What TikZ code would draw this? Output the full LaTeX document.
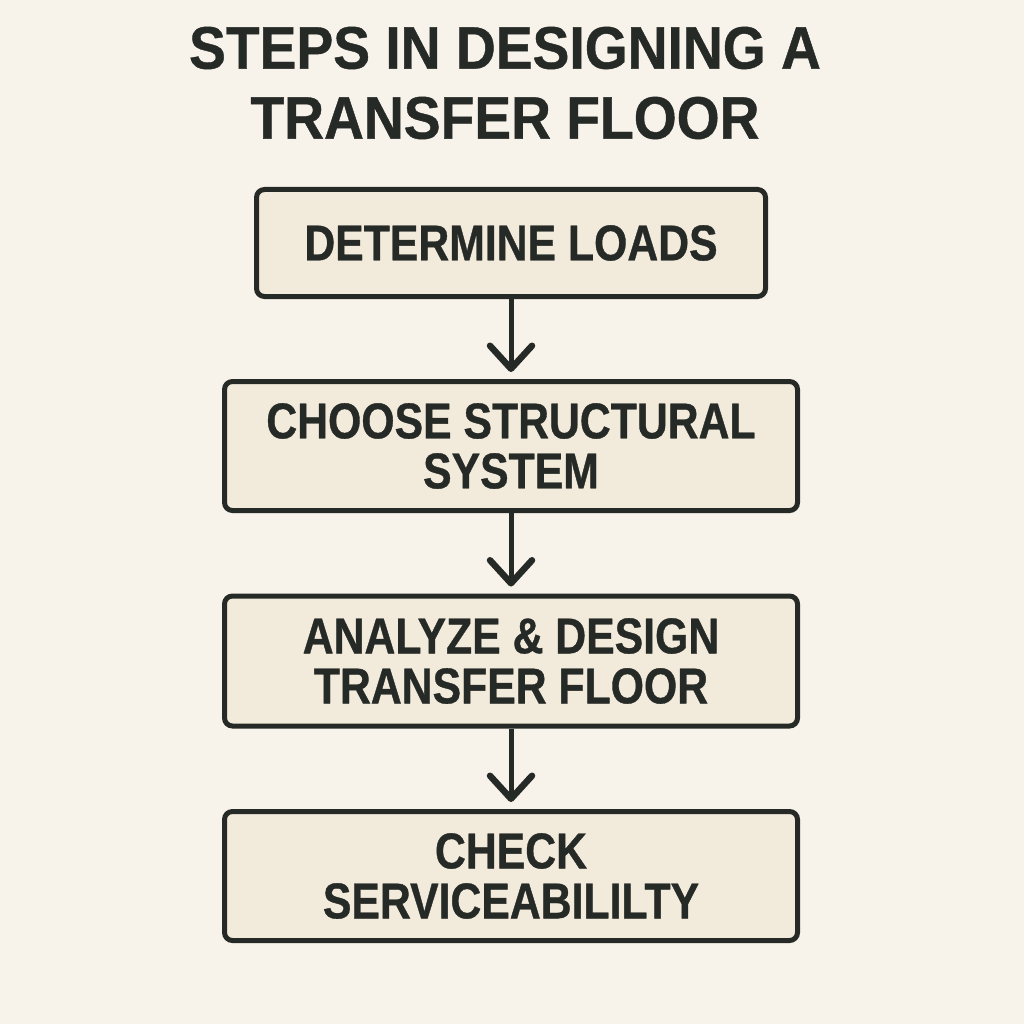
\documentclass[tikz,border=0pt]{standalone}
\usepackage{fontspec}
\usetikzlibrary{arrows.meta}
\newfontfamily\titlefont{Liberation Sans Bold}[FakeStretch=0.92,FakeBold=0.7]
\newfontfamily\boxfont{Liberation Sans Bold}[FakeStretch=0.85,FakeBold=0.7]
\definecolor{paper}{HTML}{F8F3EA}
\definecolor{boxfill}{HTML}{F2EADB}
\definecolor{ink}{HTML}{262A27}
\begin{document}
\begin{tikzpicture}[x=1pt,y=-1pt,
  stepbox/.style={draw=ink, line width=5pt, fill=boxfill, rounded corners=8pt,
    text=ink, align=center, inner sep=0pt,
    font={\boxfont\fontsize{50.3pt}{50pt}\selectfont}},
  flow/.style={draw=ink, line width=5pt, shorten >=7pt,
    -{Straight Barb[length=23pt,width=42pt,line width=6.5pt,round]}}]
\fill[paper] (0,0) rectangle (1024,1024);
\useasboundingbox (0,0) rectangle (1024,1024);

\node[text=ink, align=center, font={\titlefont\fontsize{60pt}{70pt}\selectfont}]
  (title) at (505,83) {STEPS IN DESIGNING A\\TRANSFER FLOOR};

\node[stepbox, minimum width=509pt, minimum height=107pt] (loads) at (511,243) {DETERMINE LOADS};
\node[stepbox, minimum width=573pt, minimum height=129pt] (system) at (511,446) {CHOOSE STRUCTURAL\\SYSTEM};
\node[stepbox, minimum width=573pt, minimum height=130pt] (design) at (511,661) {ANALYZE \& DESIGN\\TRANSFER FLOOR};
\node[stepbox, minimum width=573pt, minimum height=129pt] (check) at (511,876) {CHECK\\SERVICEABILILTY};

\foreach \a/\b in {loads/system, system/design, design/check}
  \draw[flow] (\a) -- (\b);
\end{tikzpicture}
\end{document}
